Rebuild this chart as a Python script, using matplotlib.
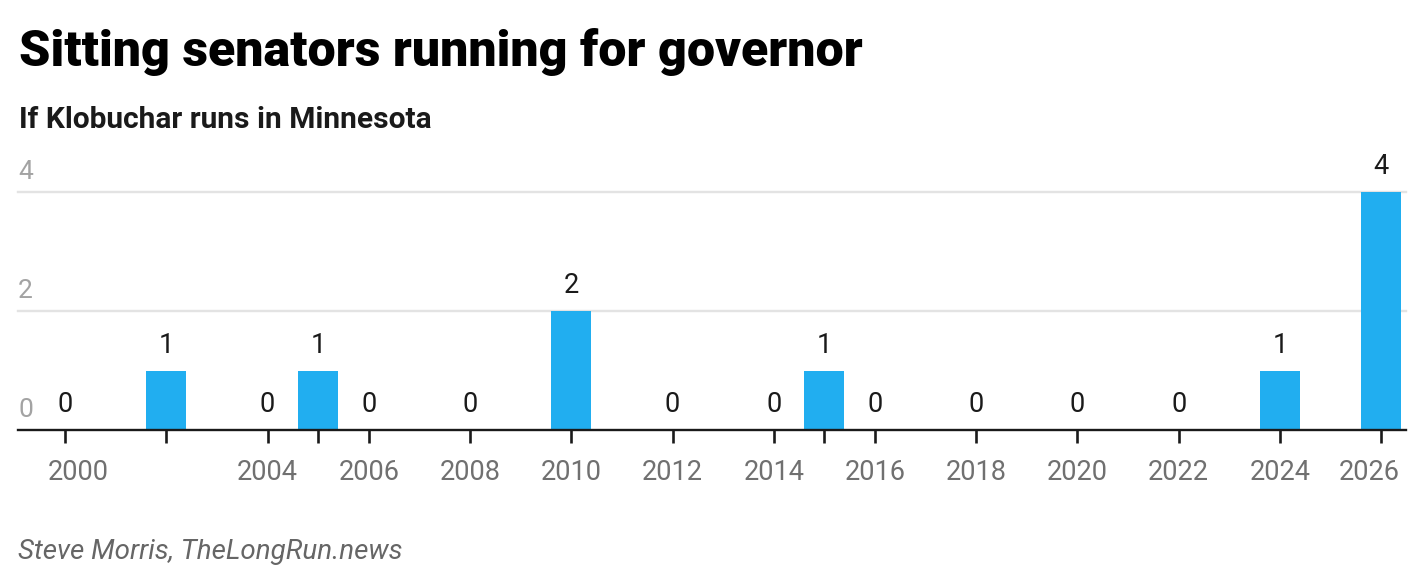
import matplotlib
matplotlib.use("Agg")
import matplotlib.pyplot as plt
import matplotlib.transforms as mtransforms

years = [2000, 2002, 2004, 2005, 2006, 2008, 2010, 2012, 2014, 2015, 2016, 2018, 2020, 2022, 2024, 2026]
counts = [0, 1, 0, 1, 0, 0, 2, 0, 0, 1, 0, 0, 0, 0, 1, 4]
hidden_labels = [2002, 2005, 2015]
y_ticks = [0, 2, 4]

title = "Sitting senators running for governor"
subtitle = "If Klobuchar runs in Minnesota"
source = "Steve Morris, TheLongRun.news"

W, H = 1426, 584
fig = plt.figure(figsize=(W / 100, H / 100), dpi=100)
plt.rcParams['font.family'] = ['Roboto', 'DejaVu Sans']

def px(x, y):
    return x / W, 1 - y / H

ax = fig.add_axes([18 / W, (H - 430) / H, (1406 - 18) / W, (430 - 192) / H])
ax.bar(years, counts, width=0.79, color='#21aef0', zorder=3)
ax.set_xlim(1999.07, 2026.49)
ax.set_ylim(0, 4)

for s in ['top', 'right', 'left']:
    ax.spines[s].set_visible(False)
ax.spines['bottom'].set_color('#1a1a1a')
ax.spines['bottom'].set_linewidth(1.7)
ax.spines['bottom'].set_zorder(4)

for v in y_ticks[1:]:
    ax.axhline(v, color='#e3e3e3', lw=1.7, zorder=1, clip_on=False)
ax.set_yticks([])
for v in y_ticks:
    ax.annotate(str(v), xy=(0, v), xycoords=('axes fraction', 'data'),
                xytext=(0, 5.5), textcoords='offset points', ha='left', va='bottom',
                fontsize=19, color='#a3a3a3')

ax.set_xticks(years)
ax.set_xticklabels(['' if y in hidden_labels else str(y) for y in years])
ax.tick_params(axis='x', length=9, width=1.9, color='#1a1a1a', labelsize=19.5,
               labelcolor='#707070', pad=12)
labels = ax.get_xticklabels()
labels[0].set_transform(labels[0].get_transform() + mtransforms.ScaledTranslation(13 / 100, 0, fig.dpi_scale_trans))
labels[-1].set_transform(labels[-1].get_transform() + mtransforms.ScaledTranslation(-12 / 100, 0, fig.dpi_scale_trans))

for x, c in zip(years, counts):
    ax.annotate(str(c), xy=(x, c), xytext=(0, 8.5), textcoords='offset points',
                ha='center', va='bottom', fontsize=19.5, color='#1a1a1a',
                annotation_clip=False)

fig.text(*px(19, 66), title, fontsize=36.1, fontweight='black', color='#000000', va='baseline')
fig.text(*px(19, 128), subtitle, fontsize=21.5, fontweight='bold', color='#1a1a1a', va='baseline')
fig.text(*px(18, 559), source, fontsize=20, fontstyle='italic', color='#666666', va='baseline')

fig.savefig('out.png', dpi=100)
